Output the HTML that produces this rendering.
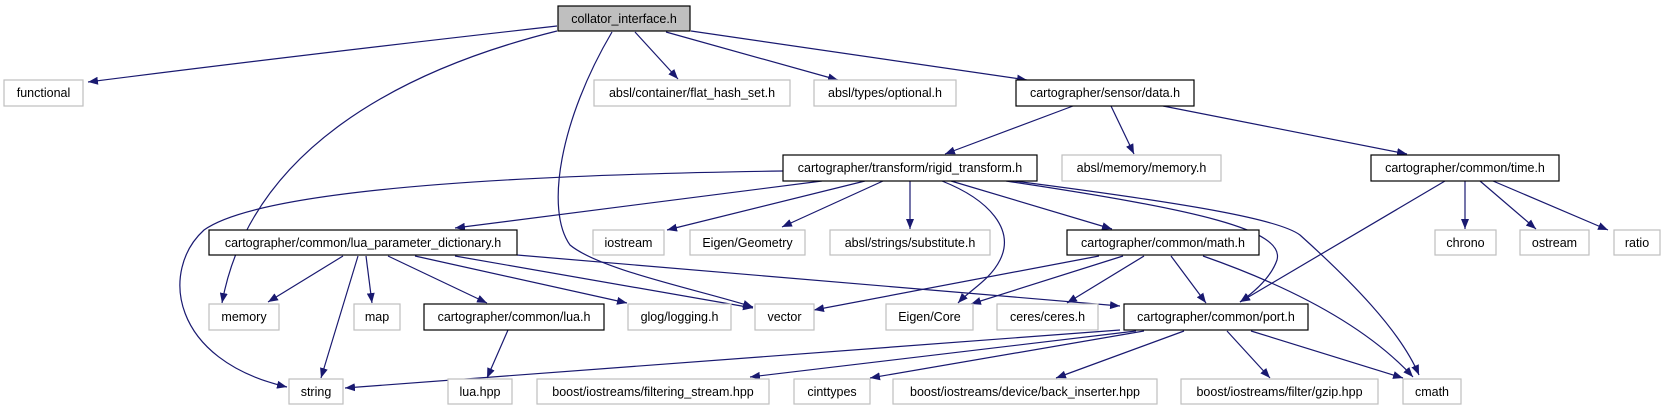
<!DOCTYPE html>
<html><head><meta charset="utf-8"><style>
html,body{margin:0;padding:0;background:#fff;}
svg{display:block;}
text{font-family:"Liberation Sans",sans-serif;font-size:12.5px;fill:#000;}
</style></head><body>
<svg width="1665" height="411" viewBox="0 0 1665 411" xmlns="http://www.w3.org/2000/svg">
<defs>
<marker id="a" markerWidth="10" markerHeight="8" refX="10" refY="4" orient="auto" markerUnits="userSpaceOnUse">
<path d="M0,0 L10,4 L0,8 Z" fill="#191970"/>
</marker>
</defs>
<g fill="none" stroke="#191970" stroke-width="1.2" marker-end="url(#a)">
<!-- collator -->
<path d="M557,26 Q300,55 88,82"/>
<path d="M557,31 C400,70 250,150 222,303"/>
<path d="M612,32 C560,120 545,210 570,245 C600,270 700,290 753,307"/>
<path d="M635,32 L678,79"/>
<path d="M666,32 L838,80"/>
<path d="M691,31 L1027,80"/>
<!-- sensor/data -->
<path d="M1073,106 L945,154"/>
<path d="M1111,106 L1134,154"/>
<path d="M1163,106 L1407,154"/>
<!-- rigid_transform -->
<path d="M783,171 C500,175 260,190 204,230 C160,270 170,360 287,387"/>
<path d="M822,181 L455,228"/>
<path d="M865,181 L667,230"/>
<path d="M883,181 L782,227"/>
<path d="M910,181 L910,229"/>
<path d="M942,181 C990,200 1015,230 1000,260 C990,280 970,290 958,303"/>
<path d="M951,181 L1112,229"/>
<path d="M1006,181 C1200,210 1285,230 1277,260 C1270,280 1250,295 1240,302"/>
<path d="M1014,181 C1200,205 1280,220 1300,235 C1350,280 1400,330 1419,375"/>
<!-- time.h -->
<path d="M1445,181 L1240,302"/>
<path d="M1465,181 L1465,229"/>
<path d="M1480,181 L1536,229"/>
<path d="M1493,181 L1608,230"/>
<!-- lua_param_dict -->
<path d="M343,256 L268,302"/>
<path d="M358,256 L321,378"/>
<path d="M366,256 L372,303"/>
<path d="M388,256 L487,303"/>
<path d="M415,256 L627,303"/>
<path d="M455,256 L753,308"/>
<path d="M517,255 L1120,306"/>
<!-- lua.h -->
<path d="M508,330 L487,378"/>
<!-- math.h -->
<path d="M1099,256 L814,310"/>
<path d="M1123,256 L971,304"/>
<path d="M1144,256 L1067,303"/>
<path d="M1171,256 L1206,303"/>
<path d="M1203,256 C1300,290 1370,330 1413,377"/>
<!-- port.h -->
<path d="M1120,330 L345,388"/>
<path d="M1136,331 L750,377"/>
<path d="M1144,331 L870,378"/>
<path d="M1184,331 L1056,378"/>
<path d="M1227,331 L1270,378"/>
<path d="M1251,331 L1403,378"/>
</g>
<g stroke-width="1.2">
<rect x="558" y="6" width="132" height="25" fill="#bfbfbf" stroke="#000"/>
<g fill="#fff" stroke="#bfbfbf">
<rect x="4" y="80" width="79" height="26"/>
<rect x="594" y="80" width="196" height="26"/>
<rect x="814" y="80" width="142" height="26"/>
<rect x="1062" y="155" width="159" height="26"/>
<rect x="593" y="230" width="71" height="25"/>
<rect x="690" y="230" width="115" height="25"/>
<rect x="830" y="230" width="160" height="25"/>
<rect x="1435" y="230" width="61" height="25"/>
<rect x="1520" y="230" width="69" height="25"/>
<rect x="1614" y="230" width="46" height="25"/>
<rect x="209" y="304" width="70" height="26"/>
<rect x="354" y="304" width="46" height="26"/>
<rect x="628" y="304" width="103" height="26"/>
<rect x="755" y="304" width="59" height="26"/>
<rect x="886" y="304" width="87" height="26"/>
<rect x="997" y="304" width="101" height="26"/>
<rect x="289" y="379" width="54" height="25"/>
<rect x="448" y="379" width="64" height="25"/>
<rect x="537" y="379" width="232" height="25"/>
<rect x="794" y="379" width="76" height="25"/>
<rect x="893" y="379" width="264" height="25"/>
<rect x="1181" y="379" width="197" height="25"/>
<rect x="1403" y="379" width="58" height="25"/>
</g>
<g fill="#fff" stroke="#000">
<rect x="1016" y="80" width="178" height="26"/>
<rect x="783" y="155" width="254" height="26"/>
<rect x="1371" y="155" width="188" height="26"/>
<rect x="209" y="230" width="308" height="25"/>
<rect x="1067" y="230" width="192" height="25"/>
<rect x="424" y="304" width="180" height="26"/>
<rect x="1124" y="304" width="184" height="26"/>
</g>
</g>
<g text-anchor="middle">
<text x="624" y="23">collator_interface.h</text>
<text x="43.5" y="97">functional</text>
<text x="692" y="97">absl/container/flat_hash_set.h</text>
<text x="885" y="97">absl/types/optional.h</text>
<text x="1105" y="97">cartographer/sensor/data.h</text>
<text x="910" y="172">cartographer/transform/rigid_transform.h</text>
<text x="1141.5" y="172">absl/memory/memory.h</text>
<text x="1465" y="172">cartographer/common/time.h</text>
<text x="363" y="247">cartographer/common/lua_parameter_dictionary.h</text>
<text x="628.5" y="247">iostream</text>
<text x="747.5" y="247">Eigen/Geometry</text>
<text x="910" y="247">absl/strings/substitute.h</text>
<text x="1163" y="247">cartographer/common/math.h</text>
<text x="1465.5" y="247">chrono</text>
<text x="1554.5" y="247">ostream</text>
<text x="1637" y="247">ratio</text>
<text x="244" y="321">memory</text>
<text x="377" y="321">map</text>
<text x="514" y="321">cartographer/common/lua.h</text>
<text x="679.5" y="321">glog/logging.h</text>
<text x="784.5" y="321">vector</text>
<text x="929.5" y="321">Eigen/Core</text>
<text x="1047.5" y="321">ceres/ceres.h</text>
<text x="1216" y="321">cartographer/common/port.h</text>
<text x="316" y="396">string</text>
<text x="480" y="396">lua.hpp</text>
<text x="653" y="396">boost/iostreams/filtering_stream.hpp</text>
<text x="832" y="396">cinttypes</text>
<text x="1025" y="396">boost/iostreams/device/back_inserter.hpp</text>
<text x="1279.5" y="396">boost/iostreams/filter/gzip.hpp</text>
<text x="1432" y="396">cmath</text>
</g>
</svg>
</body></html>
